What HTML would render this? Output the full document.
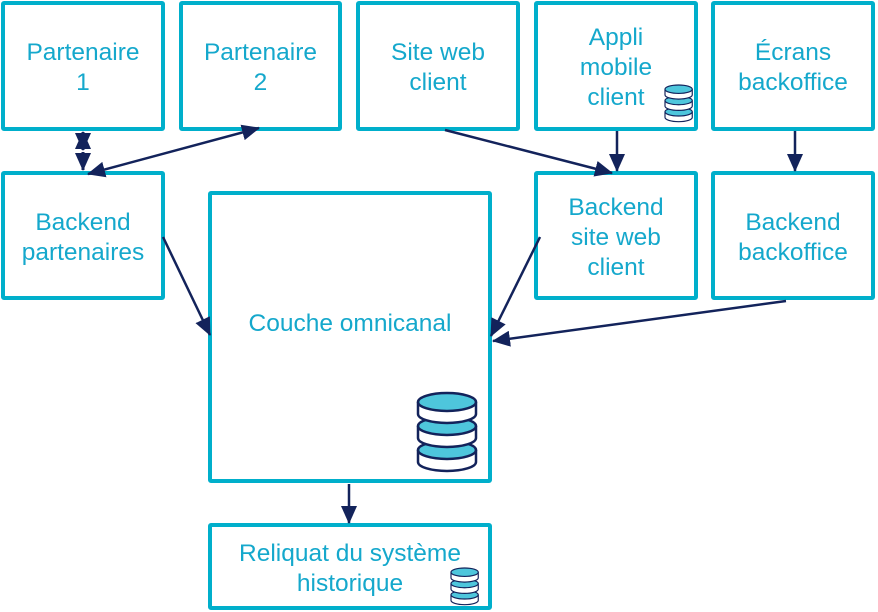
<!DOCTYPE html><html><head><meta charset="utf-8"><style>
body{margin:0;width:878px;height:612px;background:#fff;position:relative;overflow:hidden;font-family:"Liberation Sans",sans-serif}
.b{position:absolute;border:4px solid #00afcb;border-radius:3px;box-sizing:border-box;display:flex;align-items:center;justify-content:center;text-align:center;color:#15a8cc;font-size:24.5px;line-height:30px;padding-top:4px}
svg{position:absolute;left:0;top:0}
</style></head><body>
<div class="b" style="left:1px;top:1px;width:164px;height:130px">Partenaire<br>1</div>
<div class="b" style="left:179px;top:1px;width:163px;height:130px">Partenaire<br>2</div>
<div class="b" style="left:356px;top:1px;width:164px;height:130px">Site web<br>client</div>
<div class="b" style="left:534px;top:1px;width:164px;height:130px">Appli<br>mobile<br>client</div>
<div class="b" style="left:711px;top:1px;width:164px;height:130px">Écrans<br>backoffice</div>
<div class="b" style="left:1px;top:171px;width:164px;height:129px">Backend<br>partenaires</div>
<div class="b" style="left:208px;top:191px;width:284px;height:292px;align-items:flex-start;padding-top:114px">Couche omnicanal</div>
<div class="b" style="left:534px;top:171px;width:164px;height:129px">Backend<br>site web<br>client</div>
<div class="b" style="left:711px;top:171px;width:164px;height:129px">Backend<br>backoffice</div>
<div class="b" style="left:208px;top:523px;width:284px;height:87px">Reliquat du système<br>historique</div>
<svg width="878" height="612">
<defs>
<marker id="a" markerWidth="18" markerHeight="16" refX="17" refY="8" orient="auto-start-reverse" markerUnits="userSpaceOnUse" viewBox="0 0 18 16"><path d="M0,0L18,8L0,16z" fill="#13235b"/></marker>
<g id="db"><g stroke="#13235b" stroke-width="2.5">
<path d="M0,57v12a29,9 0 0 0 58,0v-12" fill="#fff"/><ellipse cx="29" cy="57" rx="29" ry="9" fill="#4ec6dc"/>
<path d="M0,33v12a29,9 0 0 0 58,0v-12" fill="#fff"/><ellipse cx="29" cy="33" rx="29" ry="9" fill="#4ec6dc"/>
<path d="M0,9v12a29,9 0 0 0 58,0v-12" fill="#fff"/><ellipse cx="29" cy="9" rx="29" ry="9" fill="#4ec6dc"/></g></g>
</defs>
<g stroke="#13235b" stroke-width="2.5" fill="none" marker-end="url(#a)">
<path d="M83,150L83,132" marker-start="url(#a)" stroke-width="3"/>
<path d="M83,152L83,170" stroke-width="3"/>
<path d="M88,174L259,128" marker-start="url(#a)"/>
<path d="M445,130L612,173"/>
<path d="M617,131L617,171"/>
<path d="M795,131L795,171"/>
<path d="M163,237L210,335"/>
<path d="M540,237L491,336"/>
<path d="M786,301L493,341"/>
<path d="M349,484L349,523"/>
</g>
<use href="#db" transform="translate(418,393)"/>
<use href="#db" transform="translate(665,85) scale(0.47)"/>
<use href="#db" transform="translate(451,568) scale(0.47)"/>
</svg>
</body></html>
